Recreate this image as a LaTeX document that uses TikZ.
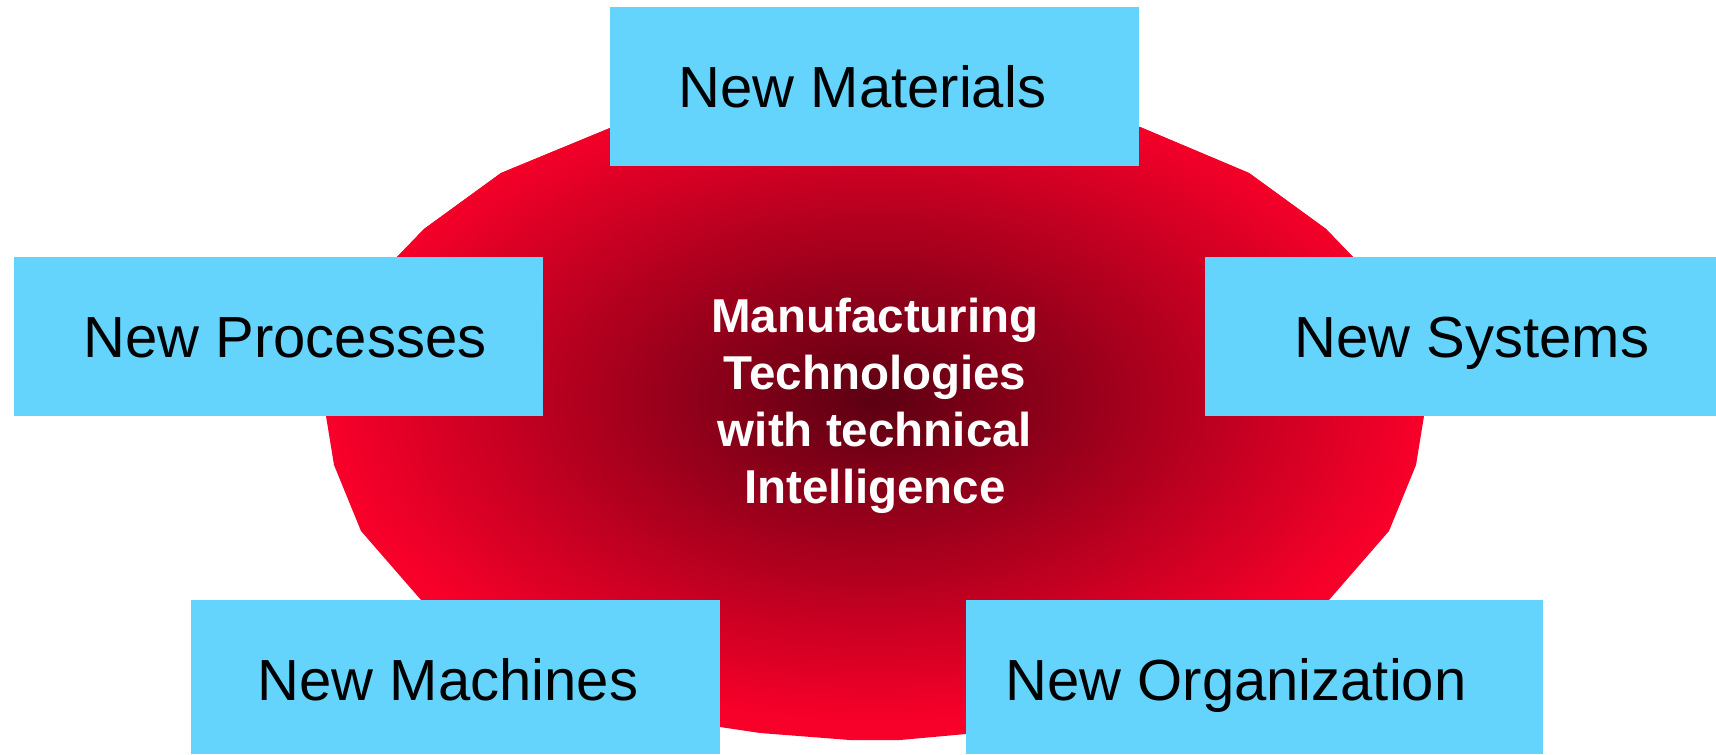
\documentclass[tikz,border=0pt]{standalone}
\usepackage{fontspec}
\setmainfont{Liberation Sans}
\definecolor{boxblue}{RGB}{100,212,252}
\definecolor{redout}{RGB}{247,0,41}
\definecolor{redin}{RGB}{92,0,18}
\begin{document}
\begin{tikzpicture}[x=0.5pt,y=-0.5pt,
  box/.style={fill=boxblue},
  lab/.style={font=\fontsize{29}{34}\selectfont, text=black, anchor=base, inner sep=0pt},
  ctr/.style={font=\fontsize{23.75}{28.5}\selectfont\bfseries, text=white, align=center, inner sep=0pt}]
\useasboundingbox (0,0) rectangle (1716,754);
% red core shape
\def\coreshape{(875,100) -- (1140,127) -- (1249,173) -- (1326,229) -- (1353,257) -- (1415,340) -- (1424,416) -- (1416,465) -- (1389,531) -- (1329,600) -- (1200,690) -- (1030,727) -- (966,734) -- (900,740) -- (850,740) -- (760,733) -- (720,727) -- (550,690) -- (421,600) -- (361,531) -- (334,465) -- (326,416) -- (335,340) -- (397,257) -- (424,229) -- (501,173) -- (610,128) -- cycle}
\begin{scope}
  \clip \coreshape;
  \fill[redout] (300,80) rectangle (1450,754);
  \shade[inner color=redin, outer color=redout] (875,400) ellipse [x radius=545, y radius=320];
\end{scope}
% boxes
\fill[box] (610,7) rectangle (1139,166);
\fill[box] (14,257) rectangle (543,416);
\fill[box] (1205,257) rectangle (1716,416);
\fill[box] (191,600) rectangle (720,754);
\fill[box] (966,600) rectangle (1543,754);
% texts
\node[lab] (mat) at (862.5,108) {New Materials};
\node[lab] (pro) at (285,357) {New Processes};
\node[lab] (sys) at (1472,357) {New Systems};
\node[lab] (mac) at (448,700) {New Machines};
\node[lab] (org) at (1236,700) {New Organization};
\node[ctr] (core) at (875,406) {Manufacturing\\Technologies\\with technical\\Intelligence};
\end{tikzpicture}
\end{document}
